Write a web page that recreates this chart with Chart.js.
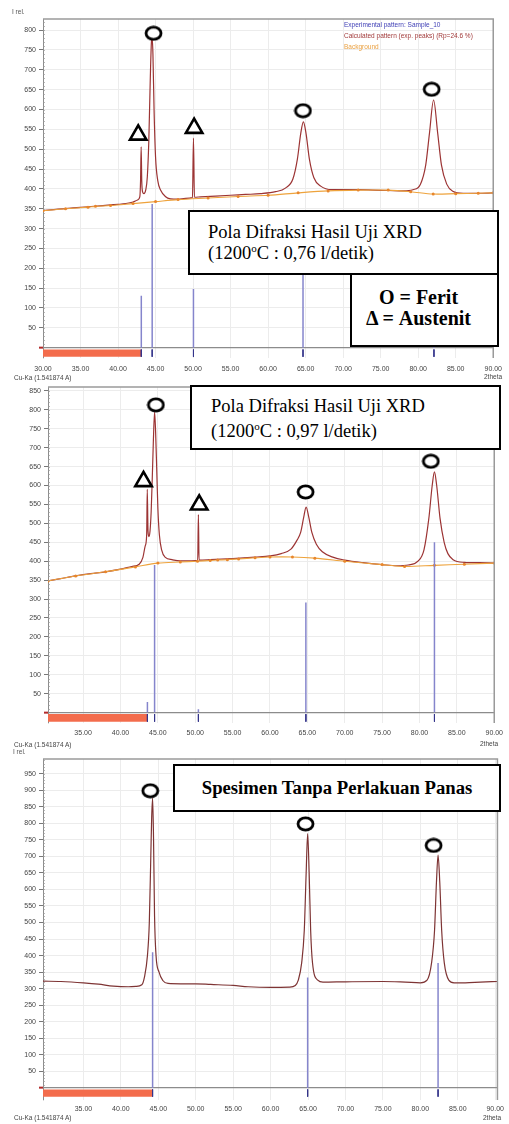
<!DOCTYPE html>
<html>
<head>
<meta charset="utf-8">
<script src="https://cdn.jsdelivr.net/npm/chart.js@4.4.1/dist/chart.umd.min.js"></script>
<style>
  body { margin: 0; background: #fff; }
  #page { position: relative; width: 509px; height: 1124px; background: #fff; overflow: hidden; }
  canvas { position: absolute; left: 0; }
  .t { position: absolute; font: 6.5px "Liberation Sans", Arial, sans-serif; color: #444; white-space: nowrap; }
  .box { position: absolute; box-sizing: border-box; border: 2px solid #000; background: #fff;
         font-family: "Liberation Serif", "Times New Roman", serif; color: #000; white-space: nowrap; }
  .box .in { position: absolute; }
  sup { font-size: 11px; line-height: 0; vertical-align: 7px; }
</style>
</head>
<body>
<div id="page">
  <canvas id="c1" width="509" height="385" style="top:0px"></canvas>
  <canvas id="c2" width="509" height="368" style="top:375px"></canvas>
  <canvas id="c3" width="509" height="370" style="top:748px"></canvas>

  <div class="t" style="left:12px;top:8px;color:#555">I rel.</div>
  <div class="t" style="left:344px;top:21px;color:#3d3db5">Experimental pattern: Sample_10</div>
  <div class="t" style="left:344px;top:32px;color:#a23a3a">Calculated pattern (exp. peaks) (Rp=24.6 %)</div>
  <div class="t" style="left:344px;top:43px;color:#eaa040">Background</div>
  <div class="t" style="left:14px;top:374px">Cu-Ka (1.541874 A)</div>
  <div class="t" style="left:484px;top:373px">2theta</div>

  <div class="t" style="left:14px;top:741px">Cu-Ka (1.541874 A)</div>
  <div class="t" style="left:480px;top:740px">2theta</div>
  <div class="t" style="left:13px;top:748px;color:#555">I rel.</div>

  <div class="t" style="left:14px;top:1114px">Cu-Ka (1.541874 A)</div>
  <div class="t" style="left:483px;top:1114px">2theta</div>

  <div class="box" style="left:188px;top:210px;width:311px;height:65px;font-size:18.5px">
    <div class="in" style="left:18px;top:10px;line-height:21px">Pola Difraksi Hasil Uji XRD<br>(1200<sup>o</sup>C : 0,76 l/detik)</div>
  </div>
  <div class="box" style="left:350px;top:273px;width:149px;height:74px;font-size:20px;font-weight:bold">
    <div class="in" style="left:0;right:12px;top:12px;line-height:21px;text-align:center">O = Ferit<br>&Delta; = Austenit</div>
  </div>
  <div class="box" style="left:190px;top:385px;width:311px;height:65px;font-size:18.5px">
    <div class="in" style="left:19px;top:7px;line-height:25px">Pola Difraksi Hasil Uji XRD<br>(1200<sup>o</sup>C : 0,97 l/detik)</div>
  </div>
  <div class="box" style="left:173px;top:764px;width:328px;height:48px;font-size:18.7px;font-weight:bold">
    <div class="in" style="left:0;right:0;top:12px;line-height:20px;text-align:center">Spesimen Tanpa Perlakuan Panas</div>
  </div>
</div>

<script>
// ---- chart 1 : 1200C, 0,76 l/detik ----
const calc1X = [30, 32, 34, 36, 38, 40, 41, 42, 42.6, 42.9, 43.0, 43.08, 43.16, 43.28, 43.45, 43.7, 43.9,
  44.1, 44.3, 44.45, 44.55, 44.65, 44.8, 45.0, 45.3, 45.7, 46.3, 47.0, 48, 49, 49.92, 50.05, 50.18, 51, 53,
  55, 57, 59, 61, 62.3, 63.3, 63.9, 64.35, 64.7, 65.05, 65.5, 66.1, 67, 68.5, 70, 72, 74, 76,
  78, 79.3, 80.3, 81.0, 81.5, 82.05, 82.6, 83.1, 83.8, 84.6, 86, 88, 90];
const calc1Y = [345, 349, 352, 355, 358, 361, 363, 367, 372, 380, 420, 506, 420, 392, 388, 398, 430,
  520, 680, 770, 780, 740, 600, 480, 420, 396, 381, 375, 374, 376, 378, 528, 379, 380, 382,
  384, 386, 388, 393, 402, 425, 475, 540, 569, 540, 475, 428, 407, 398, 398, 398, 397, 396,
  395, 398, 412, 460, 540, 624, 540, 460, 412, 394, 389, 389, 390];
const bg1X = [30, 33, 36, 37, 39, 42, 45, 48, 52, 56, 60, 64, 68, 72, 76, 79, 82, 85, 88, 90];
const bg1Y = [345, 350, 354, 356, 358, 363, 368, 373, 377, 381, 384, 390, 395, 397, 397, 393, 387, 388, 389, 390];
const ref1X = [43.1, 44.55, 50.05, 64.65, 82.1];
const ref1Y = [131, 362, 148, 300, 150];
const ferit1X = [44.73, 64.64, 81.79];
const ferit1Y = [792, 597, 651];
const austenit1X = [42.69, 50.14];
const austenit1Y = [536, 553];
const bar1 = [30, 43.1];
const xTicks1 = [30, 35, 40, 45, 50, 55, 60, 65, 70, 75, 80, 85, 90];
const yTicks1 = [50, 100, 150, 200, 250, 300, 350, 400, 450, 500, 550, 600, 650, 700, 750, 800];

// ---- chart 2 : 1200C, 0,97 l/detik ----
const calc2X = [30.3, 32, 34, 36, 38, 40, 41.5, 42.5, 43.0, 43.3, 43.5, 43.58, 43.68, 43.8, 43.95, 44.1,
  44.25, 44.4, 44.56, 44.7, 44.85, 45.0, 45.2, 45.5, 46.0, 46.9, 48.0, 49.5, 50.33, 50.42, 50.51, 52,
  55, 58, 60, 61.5, 62.8, 63.6, 64.1, 64.5, 64.83, 65.2, 65.6, 66.2, 67.0, 68.5, 70, 72.5,
  75, 77, 78.5, 79.8, 80.6, 81.25, 81.7, 82.0, 82.3, 82.75, 83.3, 83.8, 84.5, 86, 88, 90];
const calc2Y = [348, 354, 361, 367, 372, 379, 386, 392, 410, 440, 470, 590, 480, 465, 480, 530,
  620, 720, 794, 740, 640, 540, 470, 430, 410, 404, 401, 401, 402, 523, 403, 404,
  407, 411, 414, 420, 432, 455, 476, 515, 543, 515, 476, 445, 425, 410, 403, 396,
  391, 388, 390, 400, 430, 513, 600, 636, 600, 513, 450, 420, 404, 397, 396, 395];
const bg2X = [30.3, 34, 38, 42, 45, 48, 50.3, 52, 53, 54.3, 55.8, 58, 60, 63, 66, 70, 75, 78, 82, 86, 90];
const bg2Y = [348, 361, 372, 385, 395, 398, 400, 402, 403, 404, 406, 409, 411, 411, 408, 400, 391, 386, 389, 392, 395];
const ref2X = [43.6, 44.56, 50.42, 64.8, 82.0];
const ref2Y = [28, 390, 9, 291, 450];
const ferit2X = [44.74, 64.76, 81.52];
const ferit2Y = [813, 583, 664];
const austenit2X = [43.08, 50.53];
const austenit2Y = [611, 549];
const bar2 = [30.3, 43.6];
const xTicks2 = [35, 40, 45, 50, 55, 60, 65, 70, 75, 80, 85, 90];
const yTicks2 = [50, 100, 150, 200, 250, 300, 350, 400, 450, 500, 550, 600, 650, 700, 750, 800, 850];

// ---- chart 3 : spesimen tanpa perlakuan panas ----
const calc3X = [29.6, 32, 35, 37, 39, 41, 42.0, 42.8, 43.15, 43.55, 43.8, 44.0, 44.12, 44.24, 44.36, 44.5,
  44.7, 45.1, 45.6, 46.3, 48, 50, 52, 55, 57, 60, 62.5, 63.3, 63.7, 64.15, 64.5, 64.75,
  64.95, 65.15, 65.35, 65.6, 66.3, 67, 70, 75, 78, 80, 80.9, 81.5, 81.9, 82.15, 82.37, 82.6,
  82.85, 83.2, 83.8, 84.5, 86, 88, 90.3];
const calc3Y = [323, 322, 318, 314, 308, 306, 307, 312, 335, 400, 500, 700, 820, 876, 760, 520,
  400, 350, 325, 316, 315, 315, 313, 310, 306, 304, 305, 310, 326, 378, 477, 650,
  769, 650, 477, 378, 326, 320, 321, 322, 320, 318, 326, 378, 477, 620, 704, 620,
  477, 378, 326, 318, 318, 320, 322];
const ref3X = [44.24, 64.95, 82.37];
const ref3Y = [410, 334, 378];
const ferit3X = [43.93, 64.67, 81.77];
const ferit3Y = [898, 798, 733];
const bar3 = [29.6, 44.24];
const xTicks3 = [35, 40, 45, 50, 55, 60, 65, 70, 75, 80, 85, 90];
const yTicks3 = [50, 100, 150, 200, 250, 300, 350, 400, 450, 500, 550, 600, 650, 700, 750, 800, 850, 900, 950];

Chart.defaults.font.family = '"Liberation Sans", Arial, sans-serif';
Chart.defaults.font.size = 7;
Chart.defaults.color = '#444';
Chart.defaults.animation = false;

function pts(xs, ys) {
  return xs.map((x, i) => ({ x: x, y: ys[i] }));
}

// vertical segments, broken by null points
function sticks(xs, lo, hi) {
  let out = [];
  xs.forEach((x, i) => {
    out.push({ x: x, y: Array.isArray(lo) ? lo[i] : lo });
    out.push({ x: x, y: Array.isArray(hi) ? hi[i] : hi });
    out.push({ x: x, y: null });
  });
  return out;
}

// hollow ellipse used as the ferrite marker
const ring = document.createElement('canvas');
ring.width = 19;
ring.height = 16;
let rc = ring.getContext('2d');
rc.fillStyle = '#fff';
rc.strokeStyle = '#000';
rc.lineWidth = 2.8;
rc.beginPath();
rc.ellipse(9.5, 8, 7.5, 6.2, 0, 0, Math.PI * 2);
rc.fill();
rc.stroke();

const framePlugin = {
  id: 'frame',
  afterDraw(chart) {
    const ctx = chart.ctx;
    const a = chart.chartArea;
    const y = chart.scales.y;
    ctx.save();
    ctx.strokeStyle = '#9a9a9a';
    ctx.lineWidth = 1.5;
    ctx.beginPath();
    ctx.moveTo(a.left, a.top);
    ctx.lineTo(a.right, a.top);
    ctx.lineTo(a.right, a.bottom);
    ctx.stroke();
    // small ticks along the left axis
    ctx.strokeStyle = '#9a9a9a';
    ctx.lineWidth = 0.7;
    ctx.beginPath();
    for (let v = 10; v < y.max; v += 10) {
      let py = Math.round(y.getPixelForValue(v)) + 0.5;
      ctx.moveTo(a.left, py);
      ctx.lineTo(a.left + 2, py);
    }
    ctx.stroke();
    ctx.restore();
  }
};

function makeChart(id, o) {
  let datasets = [];
  datasets.push({
    data: pts(o.feritX, o.feritY), showLine: false,
    pointStyle: ring, pointRadius: 8
  });
  if (o.austX) {
    datasets.push({
      data: pts(o.austX, o.austY), showLine: false,
      pointStyle: 'triangle', pointRadius: 9.5, pointBorderWidth: 2.6,
      pointBorderColor: '#000', pointBackgroundColor: '#fff'
    });
  }
  datasets.push({
    data: sticks(o.refX, 0, o.refY),
    borderColor: '#8585cc', borderWidth: 1.5, tension: 0
  });
  if (o.bgX) {
    datasets.push({
      data: pts(o.bgX, o.bgY),
      borderColor: '#eea33c', borderWidth: 1.1, tension: 0.3,
      pointRadius: 1.5, pointBackgroundColor: '#e8862c', pointBorderWidth: 0
    });
  }
  datasets.push({
    data: pts(o.calcX, o.calcY),
    borderColor: o.calcColor, borderWidth: 1.2, cubicInterpolationMode: 'monotone'
  });
  datasets.push({
    data: sticks(o.refX, o.barTop, o.barBottom),
    borderColor: '#34348a', borderWidth: 1, tension: 0
  });
  datasets.push({
    data: [{ x: o.bar[0], y: o.barBottom }, { x: o.bar[1], y: o.barBottom }],
    fill: { value: o.barTop }, backgroundColor: '#f36c4c', borderWidth: 0
  });

  return new Chart(document.getElementById(id), {
    type: 'line',
    data: { datasets: datasets },
    options: {
      responsive: false,
      events: [],
      layout: { padding: { left: 0, top: o.top, right: o.right, bottom: 0 } },
      elements: { point: { radius: 0 }, line: { fill: false } },
      plugins: { legend: { display: false }, tooltip: { enabled: false } },
      scales: {
        x: {
          type: 'linear', min: o.xMin, max: o.xMax,
          afterBuildTicks: s => { s.ticks = o.xTicks.map(v => ({ value: v })); },
          afterFit: s => { s.height = o.xAxisH; },
          grid: { color: '#ececec', drawTicks: false },
          border: { display: false },
          ticks: { padding: o.xPad, maxRotation: 0, autoSkip: false, callback: v => v.toFixed(2) }
        },
        y: {
          type: 'linear', min: o.yMin, max: o.yMax,
          afterBuildTicks: s => { s.ticks = [0].concat(o.yTicks).map(v => ({ value: v })); },
          afterFit: s => { s.width = o.left; },
          grid: {
            color: c => (c.tick && c.tick.value === 0) ? '#8c8c8c' : '#ececec',
            lineWidth: c => (c.tick && c.tick.value === 0) ? 1.3 : 1,
            tickLength: 4,
            tickColor: c => (c.tick && c.tick.value === 0) ? '#b22a2a' : '#555',
            tickWidth: c => (c.tick && c.tick.value === 0) ? 2 : 0.8
          },
          border: { display: true, color: '#8c8c8c', width: 1 },
          ticks: { padding: 3, autoSkip: false, callback: v => v === 0 ? '' : v }
        }
      }
    },
    plugins: [framePlugin]
  });
}

makeChart('c1', {
  calcX: calc1X, calcY: calc1Y, bgX: bg1X, bgY: bg1Y, refX: ref1X, refY: ref1Y,
  feritX: ferit1X, feritY: ferit1Y, austX: austenit1X, austY: austenit1Y,
  bar: bar1, xTicks: xTicks1, yTicks: yTicks1, calcColor: '#9c3434',
  xMin: 30, xMax: 90, yMin: -26, yMax: 828,
  top: 19, right: 10.5, left: 43, xAxisH: 27, xPad: 7, barTop: -4.5, barBottom: -23
});

makeChart('c2', {
  calcX: calc2X, calcY: calc2Y, bgX: bg2X, bgY: bg2Y, refX: ref2X, refY: ref2Y,
  feritX: ferit2X, feritY: ferit2Y, austX: austenit2X, austY: austenit2Y,
  bar: bar2, xTicks: xTicks2, yTicks: yTicks2, calcColor: '#9c3434',
  xMin: 30.3, xMax: 90, yMin: -27.5, yMax: 860,
  top: 10, right: 10, left: 48, xAxisH: 20, xPad: 6, barTop: -4, barBottom: -24
});

makeChart('c3', {
  calcX: calc3X, calcY: calc3Y, refX: ref3X, refY: ref3Y,
  feritX: ferit3X, feritY: ferit3Y,
  bar: bar3, xTicks: xTicks3, yTicks: yTicks3, calcColor: '#7e3434',
  xMin: 29.6, xMax: 90.3, yMin: -36, yMax: 994,
  top: 11, right: 8.3, left: 43, xAxisH: 18, xPad: 5, barTop: -4, barBottom: -26
});
</script>
</body>
</html>
